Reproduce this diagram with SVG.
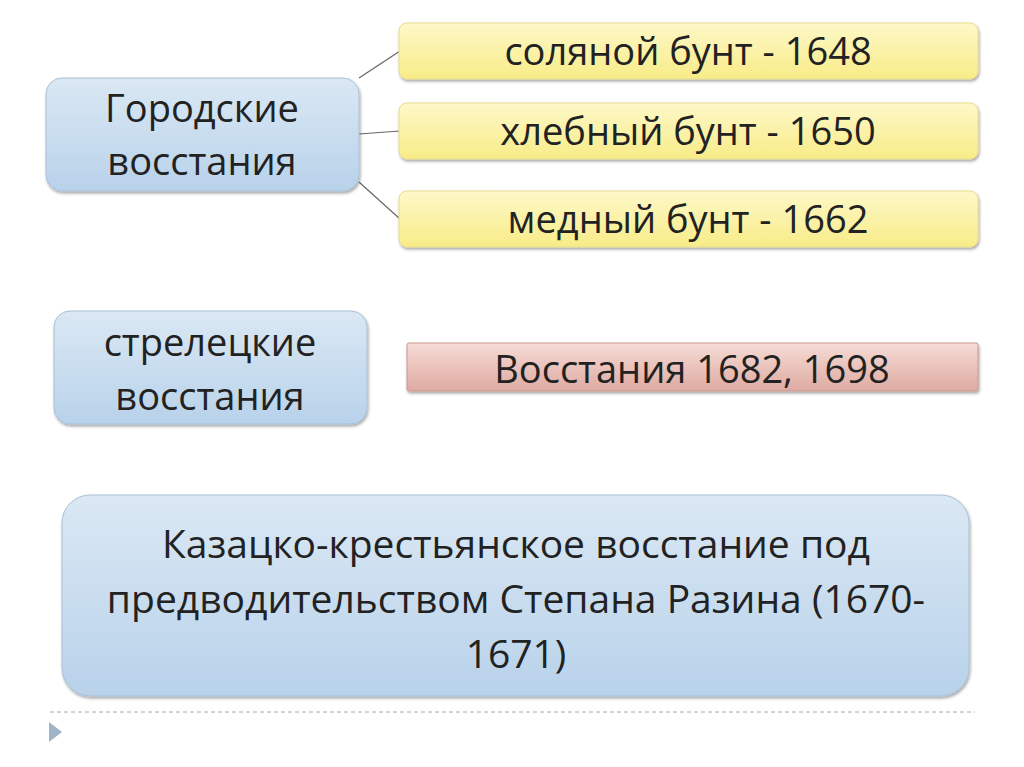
<svg xmlns="http://www.w3.org/2000/svg" width="1024" height="767" viewBox="0 0 1024 767">
<defs>
<linearGradient id="bl" x1="0" y1="0" x2="0" y2="1"><stop offset="0" stop-color="#dbe8f4"/><stop offset="1" stop-color="#b8d2ea"/></linearGradient>
<linearGradient id="ye" x1="0" y1="0" x2="0" y2="1"><stop offset="0" stop-color="#fdf8c8"/><stop offset="1" stop-color="#f8ec88"/></linearGradient>
<linearGradient id="rd" x1="0" y1="0" x2="0" y2="1"><stop offset="0" stop-color="#f6dcd6"/><stop offset="1" stop-color="#deaaa2"/></linearGradient>
<filter id="sh" x="-5%" y="-10%" width="110%" height="125%"><feDropShadow dx="1" dy="2" stdDeviation="1.5" flood-color="#000" flood-opacity="0.35"/></filter>
<style>
.b{fill:url(#bl);stroke:#a8c0d8;stroke-width:1;filter:url(#sh)}
.y{fill:url(#ye);stroke:#e8dc90;stroke-width:1;filter:url(#sh)}
.r{fill:url(#rd);stroke:#c89890;stroke-width:1;filter:url(#sh)}
text{font-family:"Open Sans","Noto Sans",sans-serif;font-size:38px;fill:#222;text-anchor:middle}
.c line{stroke:#666;stroke-width:1.2}
</style>
</defs>
<rect width="1024" height="767" fill="#fff"/>
<g class="c">
<line x1="359" y1="78" x2="400" y2="51"/>
<line x1="359" y1="134" x2="400" y2="131"/>
<line x1="359" y1="182" x2="400" y2="219"/>
</g>
<g id="n1"><rect class="b" x="46" y="78" width="313" height="113" rx="16"/><text x="202" y="122">Городские</text><text x="202" y="175">восстания</text></g>
<g id="n2"><rect class="y" x="399" y="23" width="579" height="56" rx="8"/><text x="688" y="65">соляной бунт - 1648</text></g>
<g id="n3"><rect class="y" x="399" y="103" width="579" height="56" rx="8"/><text x="688" y="145">хлебный бунт - 1650</text></g>
<g id="n4"><rect class="y" x="399" y="191" width="579" height="56" rx="8"/><text x="688" y="233">медный бунт - 1662</text></g>
<g id="n5"><rect class="b" x="54" y="311" width="313" height="113" rx="16"/><text x="210" y="356">стрелецкие</text><text x="210" y="410">восстания</text></g>
<g id="n6"><rect class="r" x="407" y="343" width="571" height="48" rx="2"/><text x="692" y="383">Восстания 1682, 1698</text></g>
<g id="n7"><rect class="b" x="62" y="495" width="907" height="201" rx="28"/><text x="516" y="558" style="font-size:39px">Казацко-крестьянское восстание под</text><text x="516" y="613" style="font-size:39px">предводительством Степана Разина (1670-</text><text x="516" y="668" style="font-size:39px">1671)</text></g>
<line x1="50" y1="712" x2="975" y2="712" stroke="#aaa" stroke-width="1" stroke-dasharray="4,3"/>
<polygon points="49,722 62,732 49,742" fill="#9fb4c8"/>
</svg>
